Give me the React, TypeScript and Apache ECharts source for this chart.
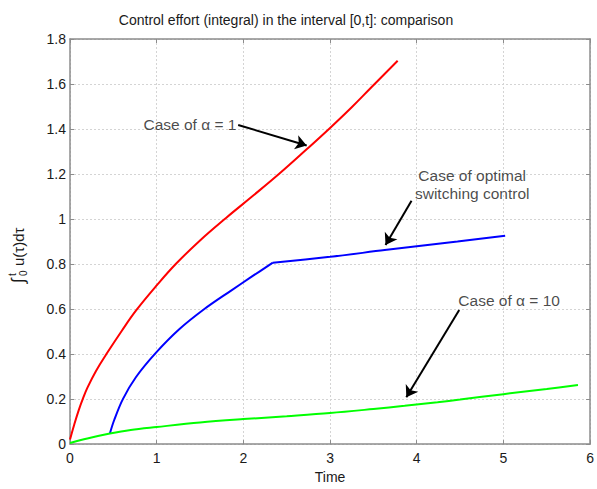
import React, { useEffect, useRef } from "react";
import * as echarts from "echarts";

const titleText = "Control effort (integral) in the interval [0,t]: comparison";
const xTicks = [0, 1, 2, 3, 4, 5, 6];
const yTickStep = 0.2;

const redTime = [0, 0.05, 0.1, 0.15, 0.2, 0.3, 0.42, 0.6, 0.765, 1.0, 1.22, 1.5, 1.8, 2.1, 2.41, 2.73, 3.0, 3.25, 3.48, 3.78];
const redValue = [0.02, 0.088, 0.15, 0.203, 0.25, 0.325, 0.4, 0.505, 0.595, 0.705, 0.8, 0.905, 1.005, 1.1, 1.2, 1.31, 1.405, 1.497, 1.587, 1.703];

const blueRiseTime = [0.46, 0.51, 0.61, 0.76, 0.99, 1.26, 1.55, 1.85, 2.1, 2.34];
const blueRiseValue = [0.047, 0.107, 0.2, 0.297, 0.405, 0.51, 0.6, 0.68, 0.745, 0.806];
const blueSwitchTime = [2.34, 3.0, 3.63, 4.47, 5.02];
const blueSwitchValue = [0.806, 0.832, 0.862, 0.9, 0.926];

const greenTime = [0, 0.2, 0.46, 0.7, 1.0, 1.5, 2.0, 2.5, 3.0, 3.5, 3.86, 4.24, 4.5, 5.0, 5.5, 5.86];
const greenValue = [0.005, 0.025, 0.047, 0.063, 0.076, 0.096, 0.111, 0.124, 0.138, 0.156, 0.17, 0.186, 0.198, 0.222, 0.245, 0.263];

const noteTexts = ["Case of α = 1", "Case of optimal\nswitching control", "Case of α = 10"];
const notePoints: [number, number][] = [[1.92, 1.418], [4.64, 1.155], [4.48, 0.637]];
const noteAligns = ["right", "center", "left"];

const arrowFrom: [number, number][] = [[1.94, 1.418], [3.94, 1.081], [4.49, 0.596]];
const arrowTo: [number, number][] = [[2.73, 1.327], [3.64, 0.885], [3.88, 0.208]];

const FONT = "Liberation Sans, Arial, sans-serif";
const TXT = "#1a1a1a";

const zip = (a: number[], b: number[]) => a.map((v, i) => [v, b[i]]);

export default function App() {
  const ref = useRef<HTMLDivElement>(null);
  useEffect(() => {
    if (!ref.current) return;
    const chart = echarts.init(ref.current, undefined, { renderer: "svg" });
    const axisCommon = {
      type: "value" as const,
      axisLine: { show: true, onZero: false, lineStyle: { color: "#8c8c8c", width: 1.5 } },
      axisTick: { show: true, inside: true, length: 4, lineStyle: { color: "#8c8c8c" } },
    };
    chart.setOption({
      animation: false,
      backgroundColor: "#ffffff",
      grid: { left: 70, right: 4, top: 39, bottom: 40, containLabel: false },
      xAxis: [
        {
          ...axisCommon,
          min: xTicks[0],
          max: xTicks[xTicks.length - 1],
          interval: 1,
          position: "bottom",
          name: "Time",
          nameLocation: "middle",
          nameGap: 23,
          nameTextStyle: { fontFamily: FONT, fontSize: 14, color: TXT },
          axisLabel: { fontFamily: FONT, fontSize: 14, color: TXT, margin: 7 },
          splitLine: { show: true, lineStyle: { color: "#d4d4d4", type: [2, 2], width: 1 } },
        },
        {
          ...axisCommon,
          min: xTicks[0],
          max: xTicks[xTicks.length - 1],
          interval: 1,
          position: "top",
          axisLabel: { show: false },
          splitLine: { show: false },
        },
      ],
      yAxis: [
        {
          ...axisCommon,
          min: 0,
          max: 1.8,
          interval: yTickStep,
          position: "left",
          axisLabel: {
            fontFamily: FONT,
            fontSize: 14,
            color: TXT,
            margin: 4,
            formatter: (v: number) => String(Math.round(v * 10) / 10),
          },
          splitLine: { show: true, lineStyle: { color: "#d4d4d4", type: [2, 2], width: 1 } },
        },
        {
          ...axisCommon,
          min: 0,
          max: 1.8,
          interval: yTickStep,
          position: "right",
          axisLabel: { show: false },
          splitLine: { show: false },
        },
      ],
      graphic: [
        {
          type: "text",
          x: 286,
          y: 20,
          style: { text: titleText, font: `14px ${FONT}`, fill: TXT, align: "center", verticalAlign: "middle" },
        },
        {
          type: "group",
          x: 18,
          y: 283,
          rotation: Math.PI / 2,
          children: [
            { type: "text", x: 0, y: 0, style: { text: "∫", font: `18px ${FONT}`, fill: TXT, align: "left", verticalAlign: "middle" } },
            { type: "text", x: 7, y: -6, style: { text: "t", font: `10px ${FONT}`, fill: TXT, align: "left", verticalAlign: "middle" } },
            { type: "text", x: 7, y: 5, style: { text: "0", font: `10px ${FONT}`, fill: TXT, align: "left", verticalAlign: "middle" } },
            { type: "text", x: 17, y: 0, style: { text: "u(τ)dτ", font: `15px ${FONT}`, fill: TXT, align: "left", verticalAlign: "middle" } },
          ],
        },
      ],
      series: [
        { type: "line", name: "alpha1", data: zip(redTime, redValue), smooth: 0.4, symbol: "none", lineStyle: { color: "#ff0000", width: 2 }, z: 3 },
        { type: "line", name: "optRise", data: zip(blueRiseTime, blueRiseValue), smooth: 0.35, symbol: "none", lineStyle: { color: "#0000ff", width: 2 }, z: 3 },
        { type: "line", name: "optSwitch", data: zip(blueSwitchTime, blueSwitchValue), smooth: 0.3, symbol: "none", lineStyle: { color: "#0000ff", width: 2 }, z: 3 },
        { type: "line", name: "alpha10", data: zip(greenTime, greenValue), smooth: 0.35, symbol: "none", lineStyle: { color: "#00ff00", width: 2 }, z: 3 },
        {
          type: "line",
          name: "arrows",
          data: [],
          symbol: "none",
          z: 6,
          markLine: {
            silent: true,
            symbol: ["none", "arrow"],
            symbolSize: 11,
            label: { show: false },
            lineStyle: { color: "#000000", width: 2, type: "solid" },
            itemStyle: { color: "#000000" },
            data: arrowFrom.map((f, i) => [{ coord: f }, { coord: arrowTo[i] }]),
          },
        },
        {
          type: "scatter",
          name: "notes",
          symbolSize: 0,
          z: 5,
          data: notePoints.map((p, i) => ({
            value: p,
            label: {
              show: true,
              position: "inside",
              formatter: noteTexts[i],
              align: noteAligns[i],
              verticalAlign: "middle",
              fontFamily: FONT,
              fontSize: 15.5,
              lineHeight: 18,
              color: TXT,
            },
          })),
        },
      ],
    });
    return () => chart.dispose();
  }, []);
  return <div ref={ref} style={{ position: "fixed", left: 0, top: 0, width: 597, height: 489 }} />;
}
